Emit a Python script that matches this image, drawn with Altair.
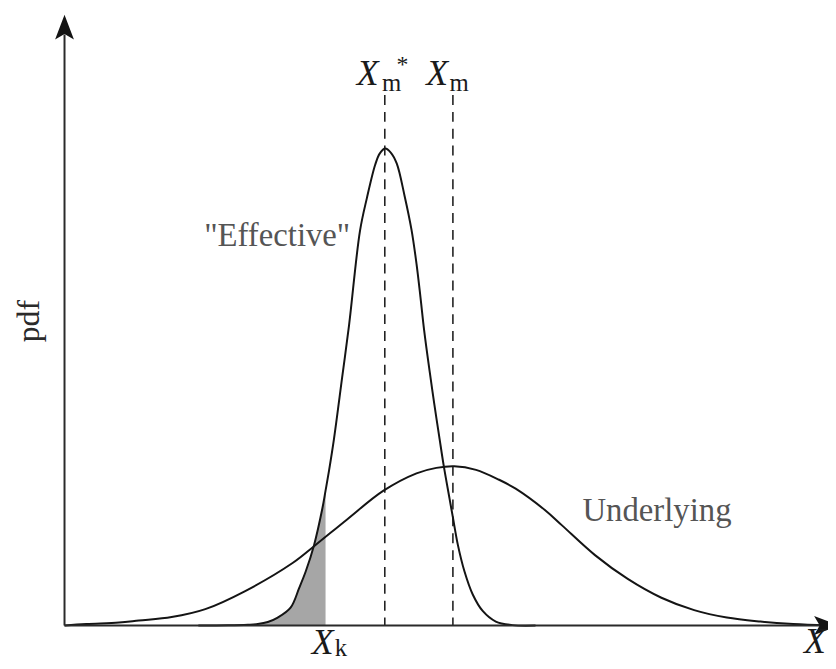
import altair as alt
import pandas as pd

# ---- data (X in arbitrary units 0..10, pdf in arbitrary units) ----
eff_x = [1.753, 2.143, 2.403, 2.532, 2.662, 2.792, 2.961, 3.074, 3.160, 3.269,
         3.377, 3.419, 3.464, 3.529, 3.636, 3.727, 3.870, 3.961, 4.069, 4.130,
         4.201, 4.273, 4.351, 4.455, 4.545, 4.610, 4.662, 4.710, 4.783, 4.844,
         4.913, 4.965, 5.043, 5.087, 5.152, 5.238, 5.347, 5.477, 5.649, 5.866, 6.169]
eff_pdf = [0.000, 0.002, 0.008, 0.015, 0.035, 0.080, 0.180, 0.380, 0.547, 0.813,
           1.180, 1.360, 1.560, 1.880, 2.500, 3.030, 3.980, 4.313, 4.647, 4.762,
           4.810, 4.770, 4.660, 4.330, 3.990, 3.650, 3.313, 2.980, 2.560, 2.230,
           1.880, 1.620, 1.280, 1.090, 0.813, 0.547, 0.313, 0.147, 0.040, 0.004, 0.000]

und_x = [0.000, 0.286, 0.714, 0.974, 1.403, 1.844, 2.360, 2.987, 3.269, 3.701,
         4.178, 4.610, 4.870, 5.104, 5.390, 5.692, 5.909, 6.299, 6.516, 6.948,
         7.377, 7.818, 8.247, 8.675, 9.117, 9.545, 10.000]
und_pdf = [0.000, 0.015, 0.030, 0.050, 0.085, 0.165, 0.345, 0.630, 0.800, 1.070,
           1.360, 1.535, 1.590, 1.607, 1.570, 1.470, 1.380, 1.160, 1.010, 0.710,
           0.470, 0.280, 0.155, 0.080, 0.040, 0.015, 0.000]

xm_star = 4.195   # X_m*
xm = 5.087        # X_m
xk = 3.419        # X_k
dash_top = 5.35

X_MAX = 10.0
Y_MAX = 6.16

# annotation anchors (data units)
italic_x = [3.970, 4.880, 3.380, 9.830]
italic_y = [5.45, 5.45, -0.29, -0.28]
italic_t = ["X", "X", "X", "X"]

sub_x = [4.285, 5.170, 3.620]
sub_y = [5.39, 5.39, -0.31]
sub_t = ["m", "m", "k"]

star_x = [4.425]
star_y = [5.58]
star_t = ["*"]

lab_x = [2.786, 7.760]
lab_y = [3.83, 1.05]
lab_t = ['"Effective"', "Underlying"]

ylab_x = [-0.465]
ylab_y = [3.07]
ylab_t = ["pdf"]

FONT = "Liberation Serif"
INK = "#141414"
CURVE = "catmull-rom"

xs = alt.Scale(domain=[0, X_MAX], nice=False, zero=False)
ys = alt.Scale(domain=[0, Y_MAX], nice=False, zero=False)

eff = pd.DataFrame({"x": eff_x, "pdf": eff_pdf})
und = pd.DataFrame({"x": und_x, "pdf": und_pdf})
shade = eff[eff["x"] <= xk + 1e-9]


def X(f="x"):
    return alt.X(f"{f}:Q", scale=xs, axis=None)


def Y(f="pdf"):
    return alt.Y(f"{f}:Q", scale=ys, axis=None)


area = alt.Chart(shade).mark_area(color="#a6a6a6", interpolate=CURVE).encode(
    x=X(), y=Y())

eff_line = alt.Chart(eff).mark_line(color=INK, strokeWidth=2, interpolate=CURVE).encode(
    x=X(), y=Y())
und_line = alt.Chart(und).mark_line(color=INK, strokeWidth=2, interpolate=CURVE).encode(
    x=X(), y=Y())

dash_df = pd.DataFrame({"x": [xm_star, xm], "top": [dash_top, dash_top], "bot": [0.0, 0.0]})
dashes = alt.Chart(dash_df).mark_rule(color="#222222", strokeWidth=1.6, strokeDash=[10, 7]).encode(
    x=X(), y=Y("top"), y2="bot:Q")

yaxis_df = pd.DataFrame({"x": [0.0], "y0": [0.0], "y1": [Y_MAX - 0.2]})
yaxis = alt.Chart(yaxis_df).mark_rule(color="#2a2a2a", strokeWidth=2).encode(
    x=X(), y=Y("y0"), y2="y1:Q")
xaxis_df = pd.DataFrame({"x0": [0.0], "x1": [X_MAX - 0.1], "y": [0.0]})
xaxis = alt.Chart(xaxis_df).mark_rule(color="#2a2a2a", strokeWidth=2).encode(
    x=X("x0"), x2="x1:Q", y=Y("y"))

ARROW_UP = "M0,-1 L0.76,1 L0,0.55 L-0.76,1 Z"
ARROW_RIGHT = "M1,0 L-1,-0.76 L-0.55,0 L-1,0.76 Z"
up_df = pd.DataFrame({"x": [0.0], "y": [Y_MAX]})
up_arrow = alt.Chart(up_df).mark_point(shape=ARROW_UP, filled=True, size=625, color=INK,
                                       opacity=1, yOffset=12.5).encode(x=X(), y=Y("y"))
right_df = pd.DataFrame({"x": [X_MAX], "y": [0.0]})
right_arrow = alt.Chart(right_df).mark_point(shape=ARROW_RIGHT, filled=True, size=625, color=INK,
                                             opacity=1, xOffset=-1.5).encode(x=X(), y=Y("y"))


def text_layer(xv, yv, tv, **kw):
    df = pd.DataFrame({"x": xv, "y": yv, "t": tv})
    return alt.Chart(df).mark_text(font=FONT, **kw).encode(x=X(), y=Y("y"), text="t:N")


italics = text_layer(italic_x, italic_y, italic_t, fontStyle="italic", fontSize=36,
                     color="#1a1a1a", align="center", baseline="alphabetic")
subs = text_layer(sub_x, sub_y, sub_t, fontSize=25, color="#1a1a1a",
                  align="center", baseline="alphabetic")
star = text_layer(star_x, star_y, star_t, fontSize=24, color="#1a1a1a",
                  align="center", baseline="alphabetic")
labels = text_layer(lab_x, lab_y, lab_t, fontSize=33, color="#555555",
                    align="center", baseline="alphabetic")
ylab = text_layer(ylab_x, ylab_y, ylab_t, fontSize=32, color="#2a2a2a",
                  align="center", baseline="middle", angle=270)

chart = alt.layer(
    area, dashes, eff_line, und_line, yaxis, xaxis, up_arrow, right_arrow,
    italics, subs, star, labels, ylab
).properties(
    width=770, height=616,
    padding={"left": 57, "top": 4, "right": 0, "bottom": 33},
    autosize=alt.AutoSizeParams(type="none"),
    background="white",
).configure_view(stroke=None)

chart.save("out.html", embed_options={"renderer": "svg", "actions": False})
